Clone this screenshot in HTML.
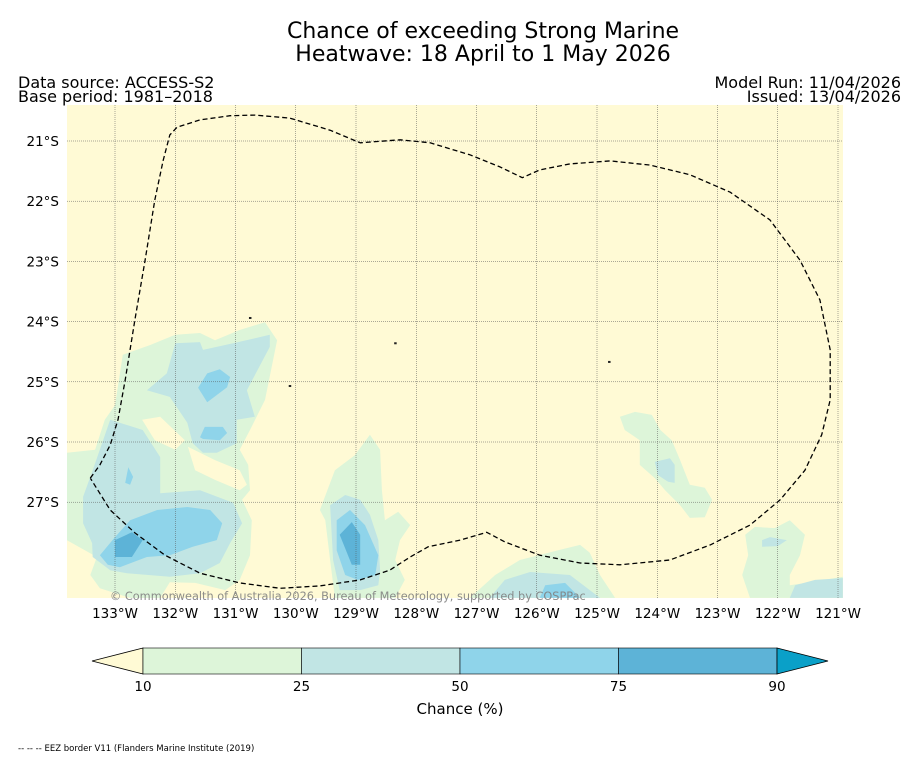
<!DOCTYPE html>
<html><head><meta charset="utf-8"><style>
html,body{margin:0;padding:0;background:#fff;}
svg{display:block;font-family:"DejaVu Sans","Liberation Sans",sans-serif;}
</style></head><body>
<svg id="chart" width="919" height="758" viewBox="0 0 919 758">
<text x="483" y="38" text-anchor="middle" font-size="22">Chance of exceeding Strong Marine</text>
<text x="483" y="61" text-anchor="middle" font-size="22">Heatwave: 18 April to 1 May 2026</text>
<text x="18" y="88" font-size="16">Data source: ACCESS-S2</text>
<text x="18" y="102" font-size="16">Base period: 1981–2018</text>
<text x="901" y="88" font-size="16" text-anchor="end">Model Run: 11/04/2026</text>
<text x="901" y="102" font-size="16" text-anchor="end">Issued: 13/04/2026</text>
<defs><clipPath id="mapclip"><rect x="67" y="105" width="776" height="493"/></clipPath></defs>
<rect x="67" y="105" width="776" height="493" fill="#fffad5"/>
<g id="fills" clip-path="url(#mapclip)"></g>
<g id="grid"></g>
<g id="eez" clip-path="url(#mapclip)"></g>
<g id="axes"></g>
<text x="110" y="600" font-size="11.3" fill="#808080" fill-opacity="0.9">© Commonwealth of Australia 2026, Bureau of Meteorology, supported by COSPPac</text>
<g id="cbar"></g>
<text x="460" y="714" text-anchor="middle" font-size="15">Chance (%)</text>
<text x="18" y="751" font-size="8.5">-- -- -- EEZ border V11 (Flanders Marine Institute (2019)</text>
</svg>
<script>
const lonTicks=[-133,-132,-131,-130,-129,-128,-127,-126,-125,-124,-123,-122,-121];
const latTicks=[-21,-22,-23,-24,-25,-26,-27];
const cbLevels=[10,25,50,75,90];
const cbColors=["#ddf5d9","#c1e5e4","#8fd4ea","#5db3d7"];
const C={g:"#ddf5d9",t:"#c1e5e4",b:"#8fd4ea",d:"#5db3d7",y:"#fffad5"};
const shapeLevels=["g","y","y","t","t","b","b","b","b","d","g","t","b","d","g","t","b","g","t","g","t","t"];
const shapes=[
[[-133.8,-26.18],[-133.33,-26.13],[-133.17,-25.63],[-133,-25.39],[-132.87,-24.55],[-132.42,-24.39],[-132,-24.22],[-131.59,-24.19],[-131.34,-24.31],[-130.93,-24.14],[-130.51,-24.01],[-130.31,-24.31],[-130.51,-25.3],[-130.76,-25.8],[-130.93,-26.13],[-130.79,-26.38],[-130.76,-26.8],[-130.89,-26.96],[-130.73,-27.3],[-130.76,-27.88],[-130.93,-28.29],[-131.17,-28.46],[-131.67,-28.34],[-132.09,-28.33],[-132.25,-28.59],[-132.75,-28.59],[-133.25,-28.43],[-133.41,-28.21],[-133.3,-27.91],[-133.8,-27.63]],
[[-132.55,-25.63],[-132.25,-25.58],[-131.84,-25.97],[-132,-26.13],[-132.34,-25.97]],
[[-131.79,-26.08],[-131.34,-26.3],[-130.93,-26.47],[-130.81,-26.71],[-130.93,-26.8],[-131.34,-26.63],[-131.67,-26.47]],
[[-132.47,-25.14],[-132.14,-24.86],[-132,-24.36],[-131.59,-24.34],[-131.54,-24.47],[-131.04,-24.36],[-130.43,-24.22],[-130.43,-24.42],[-130.81,-25.14],[-130.68,-25.58],[-130.98,-25.63],[-130.98,-26.02],[-131.31,-26.18],[-131.54,-26.18],[-131.71,-26.02],[-131.8,-25.68],[-132.09,-25.25]],
[[-133.53,-26.91],[-133.37,-26.47],[-133.08,-25.63],[-132.54,-25.8],[-132.25,-26.25],[-132.25,-26.85],[-131.59,-26.8],[-131.04,-27.01],[-130.89,-27.35],[-131.09,-27.68],[-131.26,-28.01],[-131.59,-28.18],[-132.09,-28.24],[-132.8,-28.18],[-133.08,-28.13],[-133.37,-27.91],[-133.38,-27.68],[-133.53,-27.35]],
[[-131.62,-25.1],[-131.47,-24.86],[-131.26,-24.79],[-131.09,-24.92],[-131.14,-25.09],[-131.47,-25.34]],
[[-131.59,-25.92],[-131.51,-25.75],[-131.21,-25.75],[-131.14,-25.85],[-131.26,-25.97],[-131.54,-25.95]],
[[-132.78,-26.42],[-132.7,-26.58],[-132.75,-26.71],[-132.83,-26.68]],
[[-133.25,-27.88],[-133,-27.58],[-132.75,-27.3],[-132.3,-27.13],[-131.8,-27.08],[-131.42,-27.13],[-131.22,-27.35],[-131.31,-27.63],[-131.71,-27.74],[-132.09,-27.88],[-132.47,-27.91],[-132.92,-28.08],[-133.12,-28.04]],
[[-133,-27.63],[-132.72,-27.5],[-132.54,-27.63],[-132.72,-27.91],[-133,-27.91]],
[[-129.6,-27.13],[-129.35,-26.47],[-129.02,-26.22],[-128.77,-25.88],[-128.6,-26.13],[-128.57,-26.8],[-128.52,-27.3],[-128.3,-27.16],[-128.1,-27.38],[-128.27,-27.63],[-128.35,-27.96],[-128.19,-28.29],[-128.35,-28.59],[-129.35,-28.59],[-129.43,-27.96],[-129.51,-27.3]],
[[-129.43,-27.05],[-129.18,-26.88],[-128.93,-26.96],[-128.77,-27.21],[-128.63,-27.63],[-128.6,-28.13],[-128.63,-28.38],[-128.93,-28.46],[-129.27,-28.46],[-129.38,-27.96]],
[[-129.32,-27.3],[-129.1,-27.13],[-128.85,-27.38],[-128.63,-27.88],[-128.68,-28.21],[-128.97,-28.29],[-129.18,-28.21],[-129.32,-27.8]],
[[-129.27,-27.54],[-129.07,-27.33],[-128.93,-27.54],[-128.93,-28.04],[-129.07,-28.04]],
[[-127.11,-28.59],[-126.69,-28.21],[-126.28,-27.96],[-125.61,-27.79],[-125.28,-27.71],[-125.12,-27.84],[-124.95,-28.21],[-124.7,-28.59]],
[[-126.78,-28.59],[-126.53,-28.29],[-126.11,-28.16],[-125.45,-28.21],[-125.12,-28.46],[-124.95,-28.59]],
[[-125.95,-28.59],[-125.86,-28.38],[-125.53,-28.34],[-125.28,-28.59]],
[[-124.62,-25.58],[-124.37,-25.5],[-124.09,-25.55],[-123.95,-25.8],[-123.76,-25.97],[-123.62,-26.3],[-123.46,-26.71],[-123.21,-26.76],[-123.09,-26.96],[-123.21,-27.25],[-123.46,-27.26],[-123.62,-27.05],[-123.87,-26.8],[-124.04,-26.6],[-124.29,-26.38],[-124.29,-25.97],[-124.54,-25.8]],
[[-124.04,-26.33],[-123.79,-26.27],[-123.71,-26.38],[-123.71,-26.68],[-123.82,-26.66],[-123.99,-26.55]],
[[-122.54,-27.54],[-122.38,-27.41],[-122.05,-27.43],[-121.8,-27.3],[-121.55,-27.54],[-121.63,-27.88],[-121.8,-28.21],[-121.8,-28.38],[-121.46,-28.33],[-120.92,-28.24],[-120.92,-28.59],[-122.46,-28.59],[-122.59,-28.21],[-122.49,-27.88]],
[[-122.26,-27.63],[-122.13,-27.58],[-121.85,-27.63],[-122,-27.73],[-122.26,-27.74]],
[[-121.71,-28.38],[-121.38,-28.29],[-120.92,-28.26],[-120.92,-28.59],[-121.8,-28.59]]
];
const eezLon=[-133.41,-133.25,-133.08,-132.95,-132.83,-132.67,-132.5,-132.34,-132.2,-132.09,-131.97,-131.59,-131.09,-130.68,-130.1,-129.43,-128.93,-128.27,-127.77,-127.11,-126.61,-126.24,-125.95,-125.45,-124.78,-124.12,-123.46,-122.79,-122.13,-121.63,-121.3,-121.13,-121.13,-121.27,-121.55,-121.96,-122.46,-123.12,-123.79,-124.62,-125.28,-125.95,-126.53,-126.83,-127.27,-127.8,-128.1,-128.44,-128.93,-129.6,-130.26,-130.93,-131.59,-132.17,-132.67,-133.08,-133.41];
const eezLat=[-26.6,-26.38,-26.05,-25.63,-24.97,-23.97,-22.98,-21.98,-21.32,-20.9,-20.77,-20.65,-20.58,-20.57,-20.62,-20.82,-21.03,-20.98,-21.03,-21.23,-21.43,-21.61,-21.48,-21.38,-21.33,-21.4,-21.56,-21.85,-22.31,-22.98,-23.64,-24.47,-25.3,-25.88,-26.47,-26.96,-27.38,-27.71,-27.96,-28.04,-28.01,-27.88,-27.66,-27.5,-27.63,-27.74,-27.91,-28.13,-28.29,-28.39,-28.43,-28.34,-28.18,-27.88,-27.51,-27.13,-26.6];
const specksLon=[-130.76,-128.35,-130.1,-124.8];
const specksLat=[-23.94,-24.36,-25.07,-24.67];
const X=lon=>115+(lon+133)*60.25;
const Y=lat=>141+(-21-lat)*60.2;
const NS="http://www.w3.org/2000/svg";
function mk(t,a,p){const e=document.createElementNS(NS,t);for(const k in a)e.setAttribute(k,a[k]);p.appendChild(e);return e;}
const fills=document.getElementById('fills');
shapes.forEach((s,i)=>{
 const p=mk('polygon',{points:s.map(q=>X(q[0]).toFixed(1)+','+Y(q[1]).toFixed(1)).join(' '),fill:C[shapeLevels[i]]},fills);
 
 
});
specksLon.forEach((l,i)=>{
 const s=mk('rect',{x:X(l)-1,y:Y(specksLat[i])-1,width:2.5,height:2,fill:"#222"},fills);
 
 
});
const grid=document.getElementById('grid');
lonTicks.forEach(l=>{const e=mk('line',{x1:X(l),x2:X(l),y1:105,y2:598,stroke:"#555","stroke-width":0.5,"stroke-dasharray":"1,1"},grid);
 
 });
latTicks.forEach(l=>{const e=mk('line',{x1:67,x2:843,y1:Y(l),y2:Y(l),stroke:"#555","stroke-width":0.5,"stroke-dasharray":"1,1"},grid);
 
 });
const eez=document.getElementById('eez');
const el=mk('polyline',{points:eezLon.map((l,i)=>X(l).toFixed(1)+','+Y(eezLat[i]).toFixed(1)).join(' '),fill:"none",stroke:"#000","stroke-width":1.3,"stroke-dasharray":"5,3","stroke-linejoin":"round"},eez);


const axes=document.getElementById('axes');
lonTicks.forEach(l=>{const t=mk('text',{x:X(l),y:618,"text-anchor":"middle","font-size":13.5},axes);t.textContent=Math.abs(l)+'°W';
 
 });
latTicks.forEach(l=>{const t=mk('text',{x:59,y:Y(l)+5,"text-anchor":"end","font-size":13.5},axes);t.textContent=Math.abs(l)+'°S';
 
 });
const cb=document.getElementById('cbar');
const segW=(777-143)/(cbLevels.length-1);
const tri1=mk('polygon',{points:"143,648 92,661 143,674",fill:"#fffad5",stroke:"#000","stroke-width":0.8},cb);


cbColors.forEach((c,i)=>{const r=mk('rect',{x:143+i*segW,y:648,width:segW,height:26,fill:c,stroke:"#000","stroke-width":0.6},cb);
 
 });
const tri2=mk('polygon',{points:"777,648 828,661 777,674",fill:"#0aa0c8",stroke:"#000","stroke-width":0.8},cb);


cbLevels.forEach((v,i)=>{const t=mk('text',{x:143+i*segW,y:691,"text-anchor":"middle","font-size":13.5},cb);t.textContent=v;
 
 });
</script>
</body></html>
